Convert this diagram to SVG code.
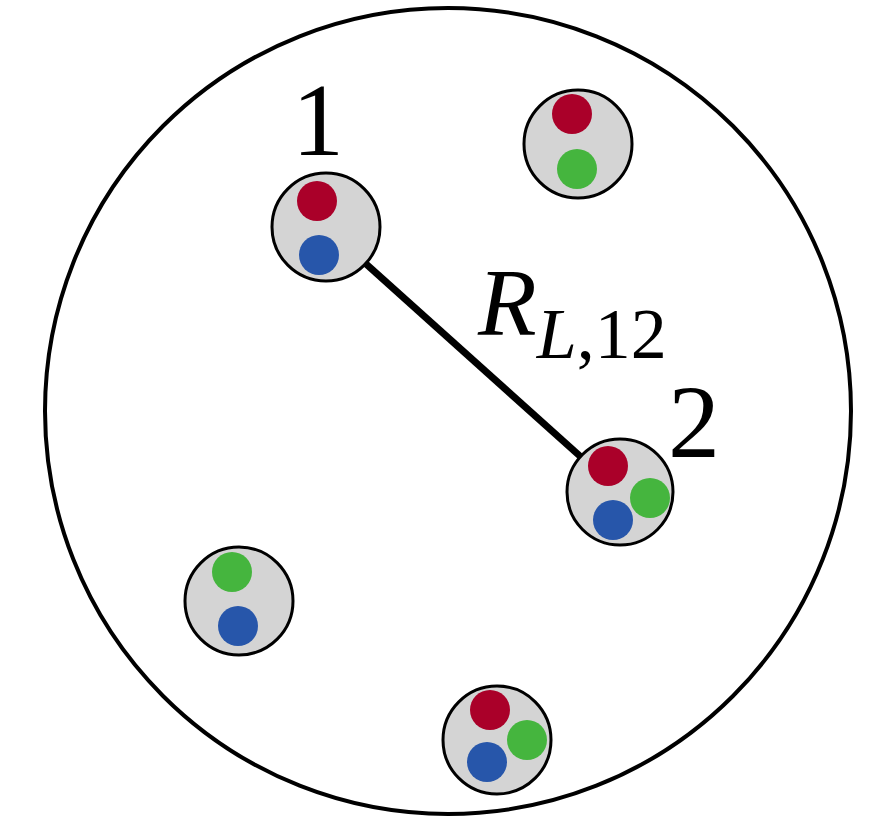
<svg xmlns="http://www.w3.org/2000/svg" width="870" height="821" viewBox="0 0 870 821">
<style>
.outer{fill:#fff;stroke:#000;stroke-width:4}
.node{fill:#d4d4d4;stroke:#000;stroke-width:3}
.r{fill:#aa0029}
.g{fill:#45b53e}
.b{fill:#2756aa}
.lbl{fill:#000;font-family:'Liberation Serif','DejaVu Serif',serif}
</style>
<rect width="870" height="821" fill="#fff"/>
<circle class="outer" cx="448" cy="411" r="403"/>
<g id="connectors">
<line x1="326" y1="228" x2="620" y2="492" stroke="#000" stroke-width="7"/>
</g>
<g id="node1">
<circle class="node" cx="326" cy="227" r="54"/>
<circle class="r" cx="317" cy="201" r="20"/>
<circle class="b" cx="319" cy="255" r="20"/>
<text class="lbl" x="318" y="155" font-size="104" text-anchor="middle">1</text>
</g>
<g id="node2">
<circle class="node" cx="620" cy="492" r="53"/>
<circle class="r" cx="608" cy="466" r="20"/>
<circle class="g" cx="650" cy="498" r="20"/>
<circle class="b" cx="613" cy="520" r="20"/>
<text class="lbl" x="694" y="457" font-size="104" text-anchor="middle">2</text>
</g>
<g id="node3">
<circle class="node" cx="578" cy="144" r="54"/>
<circle class="r" cx="572" cy="114" r="20"/>
<circle class="g" cx="577" cy="169" r="20"/>
</g>
<g id="node4">
<circle class="node" cx="239" cy="601" r="54"/>
<circle class="g" cx="232" cy="572" r="20"/>
<circle class="b" cx="238" cy="626" r="20"/>
</g>
<g id="node5">
<circle class="node" cx="497" cy="740" r="54"/>
<circle class="r" cx="490" cy="710" r="20"/>
<circle class="g" cx="527" cy="740" r="20"/>
<circle class="b" cx="487" cy="762" r="20"/>
</g>
<g id="label">
<text class="lbl" x="478" y="335" font-size="96" font-style="italic">R<tspan font-size="72" dy="23">L</tspan><tspan font-size="72" font-style="normal">,12</tspan></text>
</g>
</svg>
